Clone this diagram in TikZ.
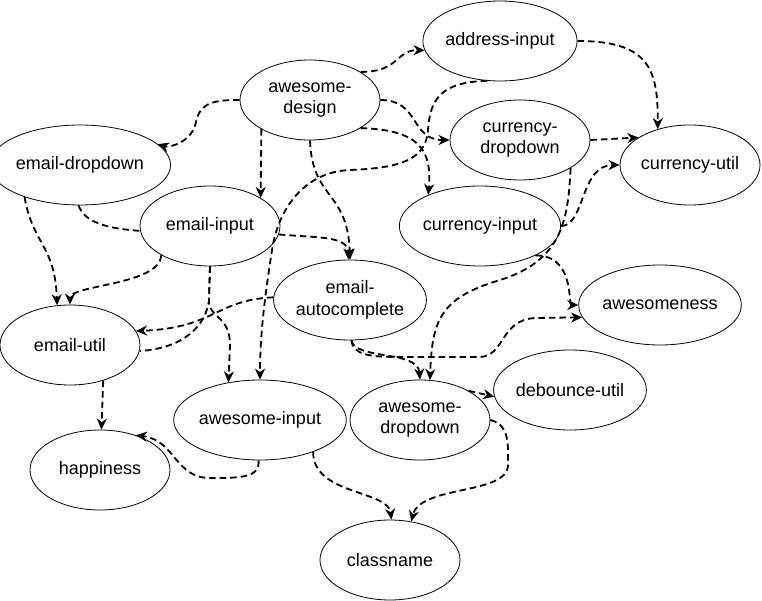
\documentclass[tikz,border=0pt]{standalone}
\usepackage{fontspec}
\setmainfont{Liberation Sans}
\usetikzlibrary{shapes.geometric,arrows.meta}
\begin{document}
\begin{tikzpicture}[x=1pt,y=-1pt,
  ell/.style={ellipse,draw=black,line width=0.8pt,minimum width=140pt,minimum height=80pt,inner sep=0pt,align=center,font=\fontsize{18}{21.5}\selectfont},
  link/.style={line width=1.8pt,dash pattern=on 6.5pt off 4pt},
  dep/.style={link,-{Stealth[length=11pt,width=10pt,inset=3.5pt]}}]
\useasboundingbox (0,0) rectangle (762,601);
% nodes
\node[ell] (ad)  at (310,100) {awesome-\\design};
\node[ell] (ai)  at (500,41)  {address-input};
\node[ell] (ed)  at (80,165)  {email-dropdown};
\node[ell] (ei)  at (210,226) {email-input};
\node[ell] (cd)  at (520,140) {currency-\\dropdown};
\node[ell] (cu)  at (690,165) {currency-util};
\node[ell] (ci)  at (480,226) {currency-input};
\node[ell] (ea)  at (350,300) {email-\\autocomplete};
\node[ell] (aw)  at (660,305) {awesomeness};
\node[ell] (eu)  at (70,345)  {email-util};
\node[ell] (ain) at (260,420) {awesome-input};
\node[ell] (adr) at (420,420) {awesome-\\dropdown};
\node[ell] (du)  at (570,390) {debounce-util};
\node[ell] (hp)  at (100,470) {happiness};
\node[ell] (cn)  at (390,560) {classname};
% edges from awesome-design
\draw[dep] (ad.180) .. controls (215,100) and (200,102) .. (196,122) .. controls (192,142) and (170,148) .. (ed.15);
\draw[dep] (ad.211) -- (ei.29);
\draw[dep] (ad.270) .. controls (312,200) and (348,190) .. (ea.90);
\draw[dep] (ad.29) .. controls (400,72) and (395,50) .. (ai.187);
\draw[dep] (ad.0) .. controls (420,100) and (410,140) .. (cd.180);
\draw[dep] (ad.331) .. controls (420,130) and (432,150) .. (ci.149);
% address-input
\draw[dep] (ai.0) .. controls (650,41) and (658,70) .. (cu.132);
\draw[dep] (ai.252) .. controls (440,82) and (430,100) .. (428,130) .. controls (426,160) and (400,168) .. (350,170) .. controls (300,172) and (277,215) .. (272,250) .. controls (266,290) and (260,330) .. (ain.90);
% currency
\draw[dep] (cd.0) -- (cu.152);
\draw[dep] (ci.0) .. controls (585,226) and (580,165) .. (cu.180);
\draw[dep] (cd.331) .. controls (568,215) and (565,260) .. (500,280) .. controls (440,298) and (432,320) .. (adr.76);
\draw[dep] (ci.332) .. controls (575,255) and (568,305) .. (aw.180);
% email-autocomplete
\draw[dep] (ea.272) .. controls (353,355) and (370,357) .. (400,357) -- (480,357) .. controls (505,356) and (500,320) .. (535,318) -- (aw.189);
\draw[dep] (ea.272) .. controls (355,360) and (418,350) .. (adr.90);
\draw[dep] (ea.178) .. controls (215,300) and (215,328) .. (eu.12);
% email-input
\draw[dep] (ei.353) .. controls (320,238) and (348,236) .. (ea.92);
\draw[dep] (ei.211) .. controls (160,285) and (70,285) .. (eu.90);
\draw[dep] (ei.270) -- (209,300) .. controls (208,318) and (230,315) .. (230,345) -- (ain.130);
\draw[link] (ei.270) -- (209,300) .. controls (206,325) and (185,348) .. (eu.355);
% email-dropdown
\draw[dep] (ed.210) .. controls (33,245) and (55,245) .. (eu.108);
\draw[link] (ed.268) .. controls (85,225) and (115,229) .. (ei.184);
% lower part
\draw[dep] (eu.313) -- (hp.88);
\draw[dep] (ain.268) .. controls (260,478) and (240,478) .. (210,478) .. controls (175,478) and (175,440) .. (hp.44);
\draw[dep] (ain.329) .. controls (313,495) and (388,490) .. (cn.88);
\draw[dep] (adr.0) .. controls (510,425) and (508,445) .. (508,465) .. controls (508,495) and (420,485) .. (cn.61);
\draw[dep] (adr.31) -- (du.185);
\end{tikzpicture}
\end{document}
